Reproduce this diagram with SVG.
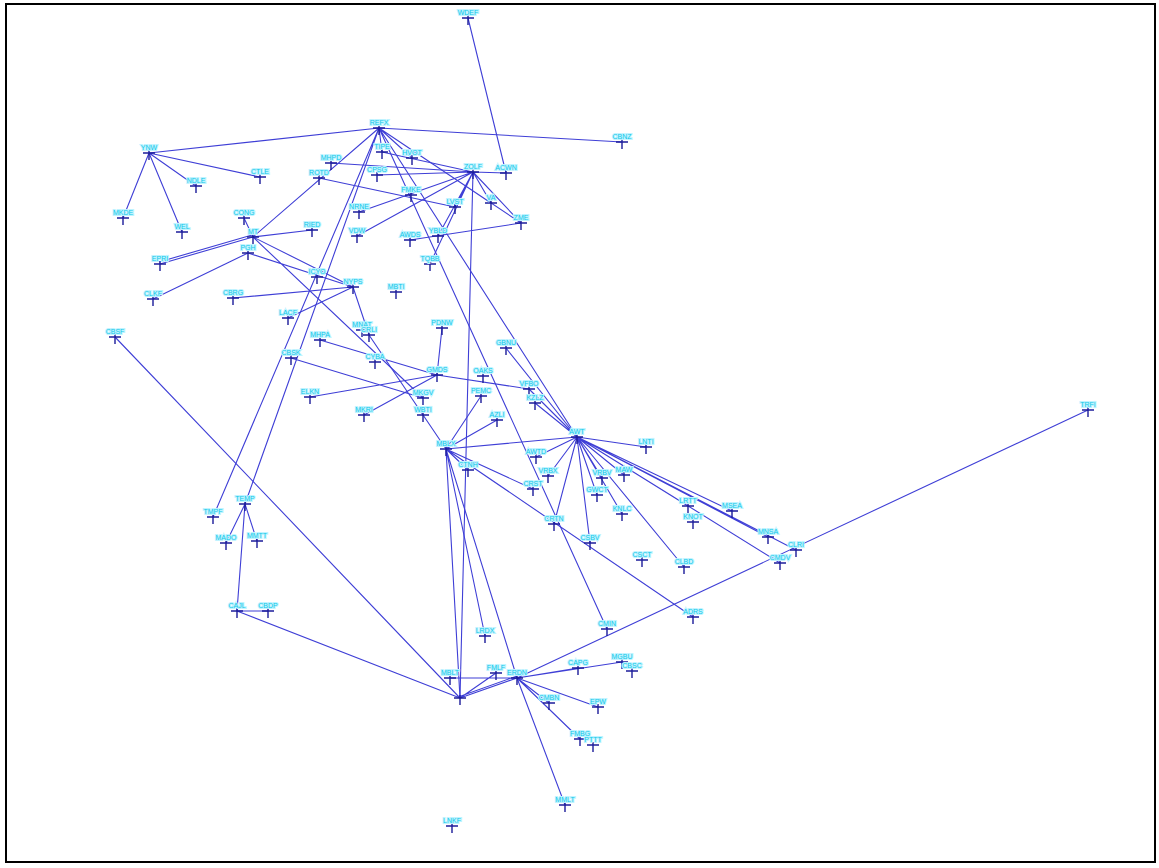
<svg xmlns="http://www.w3.org/2000/svg" width="1159" height="868" viewBox="0 0 1159 868">
<style>
.e{stroke:#3f3fd6;stroke-width:1.1;fill:none}
.c{stroke:#1c1c9a;stroke-width:1.4;fill:none}
.t{font-family:"Liberation Sans",Arial,sans-serif;font-size:7px;fill:#10c8e8;text-anchor:middle;stroke:#bff3ff;stroke-width:2.2;paint-order:stroke}
</style>
<defs>
<path id="x" class="c" d="M-6,0H6M0,-3V7"/>
</defs>
<rect x="0" y="0" width="1159" height="868" fill="#fff"/>
<rect x="6" y="4" width="1149" height="858" fill="none" stroke="#000" stroke-width="2"/>
<g id="edges">
<path class="e" d="M379,128L149,153M379,128L622,142M379,128L382,152M379,128L213,517M379,128L245,504M379,128L412,158M379,128L491,203M379,128L521,223M379,128L607,629M379,128L577,437M379,128L253,237"/>
<path class="e" d="M149,153L123,218M149,153L182,232M149,153L196,186M149,153L260,177"/>
<path class="e" d="M253,237L244,218M253,237L312,230M253,237L160,264M252,235L159,262M253,237L353,287M253,237L423,398M248,253L153,299M248,253L353,287M233,298L353,287M288,318L353,287M353,287L369,335M319,178L455,207"/>
<path class="e" d="M473,172L506,173M473,172L331,163M473,172L377,175M473,172L359,212M473,172L357,236M473,172L455,207M473,172L438,236M473,172L430,264M473,172L491,203M473,172L521,223M473,172L460,698M473,172L382,152M468,18L506,173M410,240L521,223"/>
<path class="e" d="M437,375L442,328M437,375L320,340M437,375L310,397M437,375L364,415M437,375L529,389M291,358L423,398M369,335L446,449"/>
<path class="e" d="M446,449L481,396M446,449L497,420M446,449L577,437M446,449L468,470M446,449L533,489M446,449L485,636M446,449L517,678M446,449L460,698M446,449L693,617"/>
<path class="e" d="M577,437L646,447M577,437L536,457M577,437L548,476M577,437L554,524M577,437L590,543M577,437L597,495M577,437L622,514M577,437L602,478M577,437L624,475M577,437L688,506M577,437L732,511M577,437L768,537M577,437L796,550M577,437L780,563M577,437L684,567M577,437L506,348M577,437L535,403M577,437L529,389"/>
<path class="e" d="M245,504L226,543M245,504L257,541M245,504L237,611M237,611L268,611M237,611L460,698M115,337L460,698M460,698L496,673M460,698L517,678M461,696L517,676M450,678L517,678"/>
<path class="e" d="M517,678L1088,410M517,678L578,668M517,678L622,662M517,678L549,703M517,678L598,707M517,678L580,739M517,678L565,805"/>
</g>
<g id="WDEF"><use href="#x" x="468" y="18"/><text class="t" x="468" y="15">WDEF</text></g>
<g id="REFX"><use href="#x" x="379" y="128"/><text class="t" x="379" y="125">REFX</text></g>
<g id="CBNZ"><use href="#x" x="622" y="142"/><text class="t" x="622" y="139">CBNZ</text></g>
<g id="YNW"><use href="#x" x="149" y="153"/><text class="t" x="149" y="150">YNW</text></g>
<g id="NDLE"><use href="#x" x="196" y="186"/><text class="t" x="196" y="183">NDLE</text></g>
<g id="CTLE"><use href="#x" x="260" y="177"/><text class="t" x="260" y="174">CTLE</text></g>
<g id="MKDE"><use href="#x" x="123" y="218"/><text class="t" x="123" y="215">MKDE</text></g>
<g id="WEL"><use href="#x" x="182" y="232"/><text class="t" x="182" y="229">WEL</text></g>
<g id="CONG"><use href="#x" x="244" y="218"/><text class="t" x="244" y="215">CONG</text></g>
<g id="MT"><use href="#x" x="253" y="237"/><text class="t" x="253" y="234">MT</text></g>
<g id="RIED"><use href="#x" x="312" y="230"/><text class="t" x="312" y="227">RIED</text></g>
<g id="PGH"><use href="#x" x="248" y="253"/><text class="t" x="248" y="250">PGH</text></g>
<g id="EPRI"><use href="#x" x="160" y="264"/><text class="t" x="160" y="261">EPRI</text></g>
<g id="CLKF"><use href="#x" x="153" y="299"/><text class="t" x="153" y="296">CLKF</text></g>
<g id="CBRG"><use href="#x" x="233" y="298"/><text class="t" x="233" y="295">CBRG</text></g>
<g id="MHPD"><use href="#x" x="331" y="163"/><text class="t" x="331" y="160">MHPD</text></g>
<g id="ROTD"><use href="#x" x="319" y="178"/><text class="t" x="319" y="175">ROTD</text></g>
<g id="TIPE"><use href="#x" x="382" y="152"/><text class="t" x="382" y="149">TIPE</text></g>
<g id="HVOT"><use href="#x" x="412" y="158"/><text class="t" x="412" y="155">HVOT</text></g>
<g id="ZOLF"><use href="#x" x="473" y="172"/><text class="t" x="473" y="169">ZOLF</text></g>
<g id="ACWN"><use href="#x" x="506" y="173"/><text class="t" x="506" y="170">ACWN</text></g>
<g id="CPSG"><use href="#x" x="377" y="175"/><text class="t" x="377" y="172">CPSG</text></g>
<g id="FMKE"><use href="#x" x="411" y="195"/><text class="t" x="411" y="192">FMKE</text></g>
<g id="VA"><use href="#x" x="491" y="203"/><text class="t" x="491" y="200">VA</text></g>
<g id="LVST"><use href="#x" x="455" y="207"/><text class="t" x="455" y="204">LVST</text></g>
<g id="ZME"><use href="#x" x="521" y="223"/><text class="t" x="521" y="220">ZME</text></g>
<g id="NRNE"><use href="#x" x="359" y="212"/><text class="t" x="359" y="209">NRNE</text></g>
<g id="VDW"><use href="#x" x="357" y="236"/><text class="t" x="357" y="233">VDW</text></g>
<g id="AWDS"><use href="#x" x="410" y="240"/><text class="t" x="410" y="237">AWDS</text></g>
<g id="YBLD"><use href="#x" x="438" y="236"/><text class="t" x="438" y="233">YBLD</text></g>
<g id="TQBB"><use href="#x" x="430" y="264"/><text class="t" x="430" y="261">TQBB</text></g>
<g id="NYPS"><use href="#x" x="353" y="287"/><text class="t" x="353" y="284">NYPS</text></g>
<g id="MBTI"><use href="#x" x="396" y="292"/><text class="t" x="396" y="289">MBTI</text></g>
<g id="ICYO"><use href="#x" x="317" y="277"/><text class="t" x="317" y="274">ICYO</text></g>
<g id="LACF"><use href="#x" x="288" y="318"/><text class="t" x="288" y="315">LACF</text></g>
<g id="MHPA"><use href="#x" x="320" y="340"/><text class="t" x="320" y="337">MHPA</text></g>
<g id="MNAT"><use href="#x" x="362" y="330"/><text class="t" x="362" y="327">MNAT</text></g>
<g id="CRLI"><use href="#x" x="369" y="335"/><text class="t" x="369" y="332">CRLI</text></g>
<g id="PDNW"><use href="#x" x="442" y="328"/><text class="t" x="442" y="325">PDNW</text></g>
<g id="CBSK"><use href="#x" x="291" y="358"/><text class="t" x="291" y="355">CBSK</text></g>
<g id="CYBA"><use href="#x" x="375" y="362"/><text class="t" x="375" y="359">CYBA</text></g>
<g id="GMDS"><use href="#x" x="437" y="375"/><text class="t" x="437" y="372">GMDS</text></g>
<g id="ELKN"><use href="#x" x="310" y="397"/><text class="t" x="310" y="394">ELKN</text></g>
<g id="MKGV"><use href="#x" x="423" y="398"/><text class="t" x="423" y="395">MKGV</text></g>
<g id="MKRI"><use href="#x" x="364" y="415"/><text class="t" x="364" y="412">MKRI</text></g>
<g id="WBTI"><use href="#x" x="423" y="415"/><text class="t" x="423" y="412">WBTI</text></g>
<g id="GBNU"><use href="#x" x="506" y="348"/><text class="t" x="506" y="345">GBNU</text></g>
<g id="OAKS"><use href="#x" x="483" y="376"/><text class="t" x="483" y="373">OAKS</text></g>
<g id="VFBO"><use href="#x" x="529" y="389"/><text class="t" x="529" y="386">VFBO</text></g>
<g id="KZLZ"><use href="#x" x="535" y="403"/><text class="t" x="535" y="400">KZLZ</text></g>
<g id="PEMC"><use href="#x" x="481" y="396"/><text class="t" x="481" y="393">PEMC</text></g>
<g id="AZLI"><use href="#x" x="497" y="420"/><text class="t" x="497" y="417">AZLI</text></g>
<g id="MBLX"><use href="#x" x="446" y="449"/><text class="t" x="446" y="446">MBLX</text></g>
<g id="AWT"><use href="#x" x="577" y="437"/><text class="t" x="577" y="434">AWT</text></g>
<g id="LNTI"><use href="#x" x="646" y="447"/><text class="t" x="646" y="444">LNTI</text></g>
<g id="AWTD"><use href="#x" x="536" y="457"/><text class="t" x="536" y="454">AWTD</text></g>
<g id="VRBX"><use href="#x" x="548" y="476"/><text class="t" x="548" y="473">VRBX</text></g>
<g id="CRST"><use href="#x" x="533" y="489"/><text class="t" x="533" y="486">CRST</text></g>
<g id="CTNH"><use href="#x" x="468" y="470"/><text class="t" x="468" y="467">CTNH</text></g>
<g id="VRBV"><use href="#x" x="602" y="478"/><text class="t" x="602" y="475">VRBV</text></g>
<g id="MAW"><use href="#x" x="624" y="475"/><text class="t" x="624" y="472">MAW</text></g>
<g id="GWCT"><use href="#x" x="597" y="495"/><text class="t" x="597" y="492">GWCT</text></g>
<g id="KNLC"><use href="#x" x="622" y="514"/><text class="t" x="622" y="511">KNLC</text></g>
<g id="LRTT"><use href="#x" x="688" y="506"/><text class="t" x="688" y="503">LRTT</text></g>
<g id="KNOT"><use href="#x" x="693" y="522"/><text class="t" x="693" y="519">KNOT</text></g>
<g id="MSEA"><use href="#x" x="732" y="511"/><text class="t" x="732" y="508">MSEA</text></g>
<g id="CRTN"><use href="#x" x="554" y="524"/><text class="t" x="554" y="521">CRTN</text></g>
<g id="CSBV"><use href="#x" x="590" y="543"/><text class="t" x="590" y="540">CSBV</text></g>
<g id="MNSA"><use href="#x" x="768" y="537"/><text class="t" x="768" y="534">MNSA</text></g>
<g id="CLRI"><use href="#x" x="796" y="550"/><text class="t" x="796" y="547">CLRI</text></g>
<g id="CMDV"><use href="#x" x="780" y="563"/><text class="t" x="780" y="560">CMDV</text></g>
<g id="CSCT"><use href="#x" x="642" y="560"/><text class="t" x="642" y="557">CSCT</text></g>
<g id="CLBD"><use href="#x" x="684" y="567"/><text class="t" x="684" y="564">CLBD</text></g>
<g id="ADRS"><use href="#x" x="693" y="617"/><text class="t" x="693" y="614">ADRS</text></g>
<g id="CMIN"><use href="#x" x="607" y="629"/><text class="t" x="607" y="626">CMIN</text></g>
<g id="TRFI"><use href="#x" x="1088" y="410"/><text class="t" x="1088" y="407">TRFI</text></g>
<g id="CBSF"><use href="#x" x="115" y="337"/><text class="t" x="115" y="334">CBSF</text></g>
<g id="TMPF"><use href="#x" x="213" y="517"/><text class="t" x="213" y="514">TMPF</text></g>
<g id="TEMP"><use href="#x" x="245" y="504"/><text class="t" x="245" y="501">TEMP</text></g>
<g id="MADO"><use href="#x" x="226" y="543"/><text class="t" x="226" y="540">MADO</text></g>
<g id="MMTT"><use href="#x" x="257" y="541"/><text class="t" x="257" y="538">MMTT</text></g>
<g id="CAJL"><use href="#x" x="237" y="611"/><text class="t" x="237" y="608">CAJL</text></g>
<g id="CBDP"><use href="#x" x="268" y="611"/><text class="t" x="268" y="608">CBDP</text></g>
<g id="LRDX"><use href="#x" x="485" y="636"/><text class="t" x="485" y="633">LRDX</text></g>
<g id="MBLT"><use href="#x" x="450" y="678"/><text class="t" x="450" y="675">MBLT</text></g>
<g id="MNLT"><use href="#x" x="460" y="698"/></g>
<g id="FMLF"><use href="#x" x="496" y="673"/><text class="t" x="496" y="670">FMLF</text></g>
<g id="ERDN"><use href="#x" x="517" y="678"/><text class="t" x="517" y="675">ERDN</text></g>
<g id="CAPG"><use href="#x" x="578" y="668"/><text class="t" x="578" y="665">CAPG</text></g>
<g id="MGBU"><use href="#x" x="622" y="662"/><text class="t" x="622" y="659">MGBU</text></g>
<g id="CBSC"><use href="#x" x="632" y="671"/><text class="t" x="632" y="668">CBSC</text></g>
<g id="CMBN"><use href="#x" x="549" y="703"/><text class="t" x="549" y="700">CMBN</text></g>
<g id="EPW"><use href="#x" x="598" y="707"/><text class="t" x="598" y="704">EPW</text></g>
<g id="FMBG"><use href="#x" x="580" y="739"/><text class="t" x="580" y="736">FMBG</text></g>
<g id="PTTT"><use href="#x" x="593" y="745"/><text class="t" x="593" y="742">PTTT</text></g>
<g id="MMLT"><use href="#x" x="565" y="805"/><text class="t" x="565" y="802">MMLT</text></g>
<g id="LNKF"><use href="#x" x="452" y="826"/><text class="t" x="452" y="823">LNKF</text></g>
</svg>
